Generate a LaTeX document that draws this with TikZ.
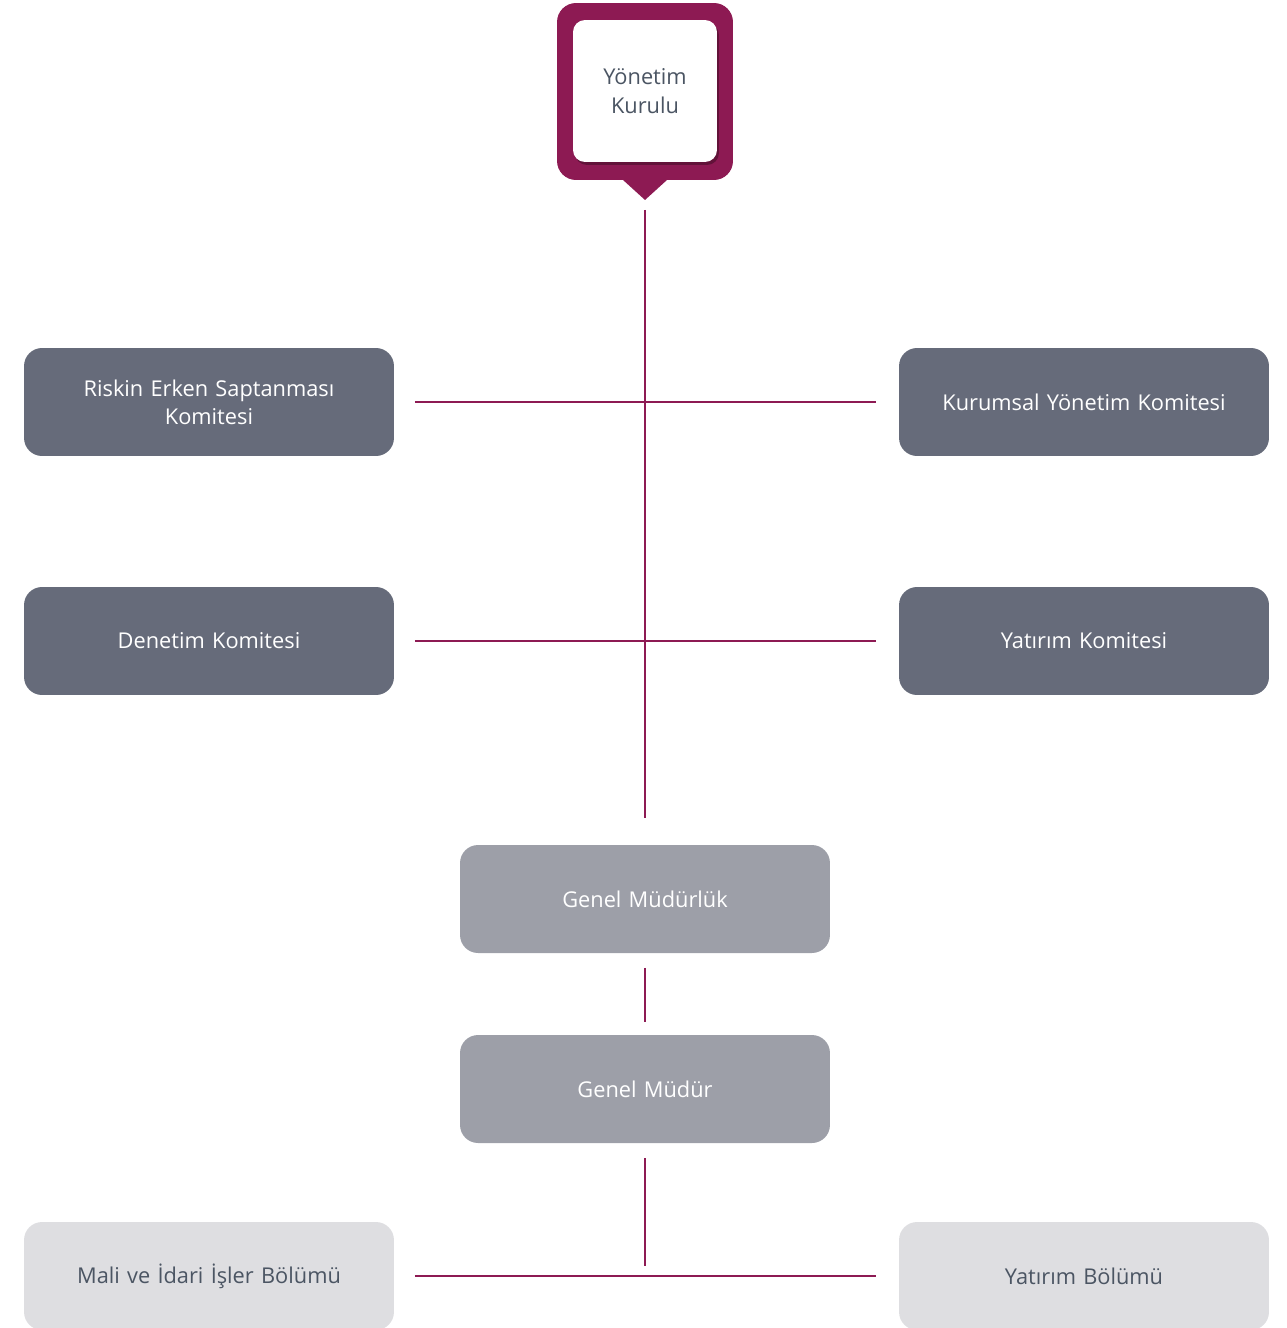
\documentclass[tikz,border=0pt]{standalone}
\usepackage{fontspec}
\setmainfont{Open Sans}
\usepackage{tikz}
\usetikzlibrary{positioning,shadows}
\usepackage{xcolor}
\definecolor{ykmagenta}{RGB}{141,26,83}
\definecolor{ykdark}{RGB}{102,107,122}
\definecolor{ykmid}{RGB}{157,159,168}
\definecolor{yklight}{RGB}{222,222,225}
\definecolor{yktext}{RGB}{75,85,99}
\tikzstyle{orgline} = [line width=0.9pt, color=ykmagenta]
\tikzstyle{komitebox} = [rectangle, rounded corners=0.36cm, minimum width=7.4cm, minimum height=2.16cm, text width=6.6cm, align=center, fill=ykdark, text=white, font=\fontsize{12.4}{16}\selectfont, outer sep=0pt]
\tikzstyle{mudurbox} = [komitebox, fill=ykmid]
\tikzstyle{bolumbox} = [komitebox, fill=yklight, text=yktext]

\begin{document}
\begin{tikzpicture}[x=0.02cm, y=-0.02cm]
\useasboundingbox (0,0) rectangle (1287,1328);

% Board
\node[rectangle, rounded corners=0.38cm, minimum width=3.52cm, minimum height=3.54cm, fill=ykmagenta, outer sep=0pt] (ykframe) at (645,91.5) {};
\coordinate (yktip) at ([yshift=-0.4cm]ykframe.south);
\fill[ykmagenta] ([xshift=-0.44cm]ykframe.south) -- ([xshift=0.44cm]ykframe.south) -- (yktip) -- cycle;
\node[rectangle, rounded corners=0.24cm, minimum width=2.88cm, minimum height=2.84cm, fill=white, text=yktext, align=center, font=\fontsize{12.4}{16.5}\selectfont, drop shadow={shadow xshift=0.04cm, shadow yshift=-0.06cm, opacity=0.3, fill=black}] (yk) at (645,91) {Yönetim\\Kurulu};

% Committees
\node[komitebox] (riskin) at (209,402) {Riskin Erken Saptanması\\Komitesi};
\node[komitebox] (kurumsal) at (1084,402) {Kurumsal Yönetim Komitesi};
\node[komitebox] (denetim) at (209,641) {Denetim Komitesi};
\node[komitebox] (yatkom) at (1084,641) {Yatırım Komitesi};

% Management
\node[mudurbox] (gml) at (645,899) {Genel Müdürlük};
\node[mudurbox] (gmr) at (645,1089) {Genel Müdür};

% Departments
\node[bolumbox] (mali) at (209,1276) {Mali ve İdari İşler Bölümü};
\node[bolumbox] (yatbol) at (1084,1276) {Yatırım Bölümü};
\coordinate (bolumjoin) at (645,1266);

% Connections
\draw[orgline, shorten <=0.2cm, shorten >=0.54cm] (yktip) -- (gml);
\draw[orgline, shorten <=0.42cm, shorten >=0.46cm] (riskin) -- (kurumsal);
\draw[orgline, shorten <=0.42cm, shorten >=0.46cm] (denetim) -- (yatkom);
\draw[orgline, shorten <=0.3cm, shorten >=0.26cm] (gml) -- (gmr);
\draw[orgline, shorten <=0.3cm] (gmr) -- (bolumjoin);
\draw[orgline, shorten <=0.42cm, shorten >=0.46cm] (mali) -- (yatbol);
\end{tikzpicture}
\end{document}
